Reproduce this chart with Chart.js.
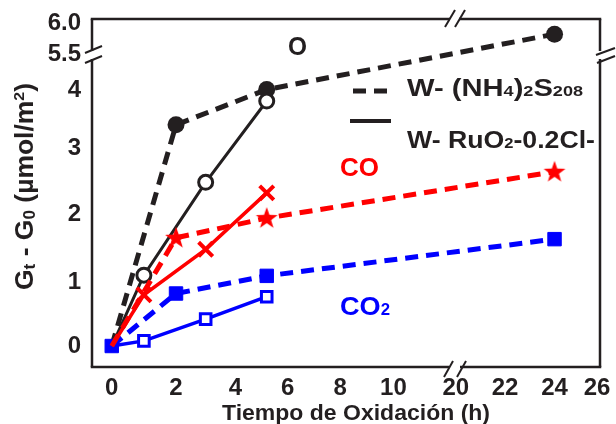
<!DOCTYPE html>
<html><head><meta charset="utf-8">
<script src="https://cdn.jsdelivr.net/npm/chart.js@4/dist/chart.umd.min.js"></script>
<style>html,body{margin:0;padding:0;background:#fff}#wrap{width:616px;height:424px}</style>
</head><body><div id="wrap"><canvas id="c" width="616" height="424"></canvas></div>
<script>
// ---- data (hours, µmol/m²) ----
const timeRu = [0, 1, 3, 5.2];
const timeNH = [0, 2, 5.2, 24];
const o2Ru  = [0, 1.10, 2.48, 3.81];
const o2NH  = [0, 3.40, 4.02, 5.82];
const coRu  = [0, 0.80, 1.48, 2.32];
const coNH  = [0, 1.65, 1.94, 2.64];
const co2Ru = [0, 0.08, 0.42, 0.77];
const co2NH = [0, 0.82, 1.09, 1.63];
const xTicks = [0, 2, 4, 6, 8, 10, 20, 22, 24, 26];
const xTickLabels = ['0','2','4','6','8','10','20','22','24','26'];
const yTicks = [0, 1, 2, 3, 4, 5.5, 6.0];
const yTickLabels = ['0','1','2','3','4','5.5','6.0'];

// ---- broken / hand-drawn axis layout (fraction of plot size for each axis value) ----
const xWarp = {values:[-0.615,0,2,4,6,8,10,20,22,24,26,26.14],
               fracs:[0,0.0389,0.1654,0.2821,0.3852,0.4883,0.5934,0.7160,0.8132,0.9105,0.9942,1]};
const yWarp = {values:[-0.33,0,1,2,3,4,5.5,6.0,6.065],
               fracs:[0,0.0603,0.2443,0.4397,0.6293,0.7960,0.8994,0.9885,1]};

function interp(v, xs, ys){
  let i = 0;
  if (v <= xs[0]) i = 0; else if (v >= xs[xs.length-1]) i = xs.length-2;
  else { while (i < xs.length-2 && v > xs[i+1]) i++; }
  const t = (v - xs[i]) / (xs[i+1] - xs[i]);
  return ys[i] + t * (ys[i+1] - ys[i]);
}

class WarpScale extends Chart.LinearScale {
  buildTicks(){
    this.start = this.min; this.end = this.max;
    return this.options.tickValues.map(v => ({value: v}));
  }
  getPixelForValue(v){
    const w = this.options.warp;
    return this.getPixelForDecimal(interp(v, w.values, w.fracs));
  }
  getValueForPixel(p){
    const w = this.options.warp;
    return interp(this.getDecimalForPixel(p), w.fracs, w.values);
  }
}
WarpScale.id = 'warp';
WarpScale.defaults = {};
Chart.register(WarpScale);

const INK = '#231f20', RED = '#ff0000', BLUE = '#0000ff';

function starImage(color){
  const c = document.createElement('canvas'); c.width = 24; c.height = 24;
  const g = c.getContext('2d'); g.fillStyle = color; g.beginPath();
  for (let i = 0; i < 10; i++){
    const r = i % 2 ? 4.6 : 11.5, a = -Math.PI/2 + i * Math.PI/5;
    const px = 12 + r*Math.cos(a), py = 12.5 + r*Math.sin(a);
    i ? g.lineTo(px, py) : g.moveTo(px, py);
  }
  g.closePath(); g.fill(); return c;
}
const star = starImage(RED);

function pts(xs, ys){ return xs.map((x, i) => ({x, y: ys[i]})); }

function richWidth(ctx, parts, size){
  let w = 0;
  for (const p of parts){ ctx.font = 'bold ' + (size*(p.s||1)) + 'px "Liberation Sans", Arial, sans-serif'; w += ctx.measureText(p.t).width; }
  return w;
}
function drawRich(ctx, parts, x, y, size, color, targetW, align){
  ctx.save();
  const nat = richWidth(ctx, parts, size);
  const sx = targetW ? targetW / nat : 1;
  const tw = nat * sx;
  let x0 = align === 'center' ? x - tw/2 : x;
  ctx.translate(x0, y); ctx.scale(sx, 1);
  ctx.fillStyle = color; ctx.textBaseline = 'alphabetic'; ctx.textAlign = 'left';
  let cx = 0;
  for (const p of parts){
    ctx.font = 'bold ' + (size*(p.s||1)) + 'px "Liberation Sans", Arial, sans-serif';
    ctx.fillText(p.t, cx, p.dy || 0);
    cx += ctx.measureText(p.t).width;
  }
  ctx.restore();
}

const decor = {
  id: 'decor',
  beforeDatasetsDraw(chart){
    const ctx = chart.ctx, a = chart.chartArea;
    const L = a.left, R = a.right, T = a.top, B = a.bottom;
    ctx.save();
    ctx.strokeStyle = INK; ctx.lineWidth = 2.5; ctx.lineCap = 'butt';
    const seg = (x1,y1,x2,y2) => { ctx.beginPath(); ctx.moveTo(x1,y1); ctx.lineTo(x2,y2); ctx.stroke(); };
    const xb1 = 450, xb2 = 459, yb1 = 51, yb2 = 59;
    seg(L-1.25, T, xb1, T); seg(xb2, T, R+1.25, T);
    seg(L-1.25, B, xb1-1, B); seg(xb2+1, B, R+1.25, B);
    seg(L, T, L, yb1); seg(L, yb2, L, B);
    seg(R, T, R, yb1); seg(R, yb2, R, B);
    ctx.lineWidth = 2;
    // x break slashes (top and bottom)
    seg(445, 27, 455, 10); seg(455, 27, 465, 10);
    seg(444, 377, 453, 361); seg(457, 377, 466, 361);
    // y break slashes (left and right)
    seg(85, 53, 102, 46); seg(85, 63, 102, 56);
    seg(596, 55, 615, 48); seg(597, 63, 615, 56);
    ctx.restore();
  },
  afterDraw(chart){
    const ctx = chart.ctx;
    // legend
    ctx.save();
    ctx.strokeStyle = INK; ctx.lineWidth = 5;
    ctx.beginPath(); ctx.moveTo(353, 91); ctx.lineTo(366, 91); ctx.moveTo(374, 91); ctx.lineTo(387, 91); ctx.stroke();
    ctx.lineWidth = 4;
    ctx.beginPath(); ctx.moveTo(350, 121); ctx.lineTo(391, 121); ctx.stroke();
    ctx.restore();
    drawRich(ctx, [{t:'W- (NH'},{t:'4',s:0.62},{t:')'},{t:'2',s:0.62},{t:'S'},{t:'208',s:0.62}], 407, 96, 24, INK, 176);
    drawRich(ctx, [{t:'W- RuO'},{t:'2',s:0.62},{t:'-0.2Cl-'}], 407, 148, 24, INK, 188);
    // species labels
    drawRich(ctx, [{t:'O'}], 297.5, 55, 25, INK, 19, 'center');
    drawRich(ctx, [{t:'CO'}], 359.5, 176, 26, RED, 39, 'center');
    drawRich(ctx, [{t:'CO'},{t:'2',s:0.62}], 365, 315, 26, BLUE, 50, 'center');
    // axis titles
    drawRich(ctx, [{t:'Tiempo de Oxidación (h)'}], 356, 420, 22.5, INK, 268, 'center');
    ctx.save();
    ctx.translate(33, 186.5); ctx.rotate(-Math.PI/2);
    drawRich(ctx, [{t:'G'},{t:'t',s:0.65,dy:2},{t:' - G'},{t:'0',s:0.65,dy:2},{t:' (µmol/m'},{t:'2',s:0.6,dy:-9},{t:')'}], 0, 0, 25, INK, 207, 'center');
    ctx.restore();
  }
};

const tickFont = {family: '"Liberation Sans", Arial, sans-serif', size: 24, weight: 'bold'};

new Chart(document.getElementById('c'), {
  type: 'line',
  data: {
    datasets: [
      {label:'CO W-RuO2', data: pts(timeRu, coRu), borderColor: RED, borderWidth: 3.5,
       pointStyle:'crossRot', pointRadius:[0,10,10,10], pointBorderWidth: 4, pointBorderColor: RED, pointBackgroundColor: RED},
      {label:'CO W-(NH4)2S2O8', data: pts(timeNH, coNH), borderColor: RED, borderWidth: 5, borderDash:[13,8],
       pointStyle: star, pointRadius:[0,11,11,11]},
      {label:'CO2 W-RuO2', data: pts(timeRu, co2Ru), borderColor: BLUE, borderWidth: 3.5,
       pointStyle:'rect', pointRadius:[0,7.5,7.5,7.5], pointBorderWidth: 3, pointBorderColor: BLUE, pointBackgroundColor: '#fff'},
      {label:'CO2 W-(NH4)2S2O8', data: pts(timeNH, co2NH), borderColor: BLUE, borderWidth: 5, borderDash:[13,8],
       pointStyle:'rect', pointRadius:9.5, pointBorderWidth: 1, pointBorderColor: BLUE, pointBackgroundColor: BLUE},
      {label:'O2 W-RuO2', data: pts(timeRu, o2Ru), borderColor: INK, borderWidth: 3,
       pointStyle:'circle', pointRadius:[0,7,7,7], pointBorderWidth: 3, pointBorderColor: INK, pointBackgroundColor: '#fff'},
      {label:'O2 W-(NH4)2S2O8', data: pts(timeNH, o2NH), borderColor: INK, borderWidth: 5, borderDash:[13,8],
       pointStyle:'circle', pointRadius:[0,8.5,8.5,8.5], pointBorderWidth: 0, pointBackgroundColor: INK}
    ]
  },
  options: {
    responsive: false, animation: false, devicePixelRatio: 1,
    layout: {padding: {top: 19, right: 10, left: 0, bottom: 0}},
    plugins: {legend: {display: false}, tooltip: {enabled: false}},
    elements: {line: {tension: 0, fill: false}},
    scales: {
      x: {type: 'warp', position: 'bottom', min: -0.615, max: 26.14, warp: xWarp, tickValues: xTicks,
          grid: {display: false, drawTicks: false}, border: {display: false},
          ticks: {autoSkip: false, maxRotation: 0, padding: 7, color: INK, font: tickFont,
                  callback: (v, i) => xTickLabels[i]},
          afterFit: s => { s.height = 57; s.paddingLeft = 0; s.paddingRight = 0; }},
      y: {type: 'warp', position: 'left', min: -0.33, max: 6.065, warp: yWarp, tickValues: yTicks,
          grid: {display: false, drawTicks: false}, border: {display: false},
          ticks: {autoSkip: false, padding: 11, color: INK, font: tickFont,
                  callback: (v, i) => yTickLabels[i]},
          afterFit: s => { s.width = 92; s.paddingTop = 0; s.paddingBottom = 0; }}
    }
  },
  plugins: [decor]
});
</script></body></html>
